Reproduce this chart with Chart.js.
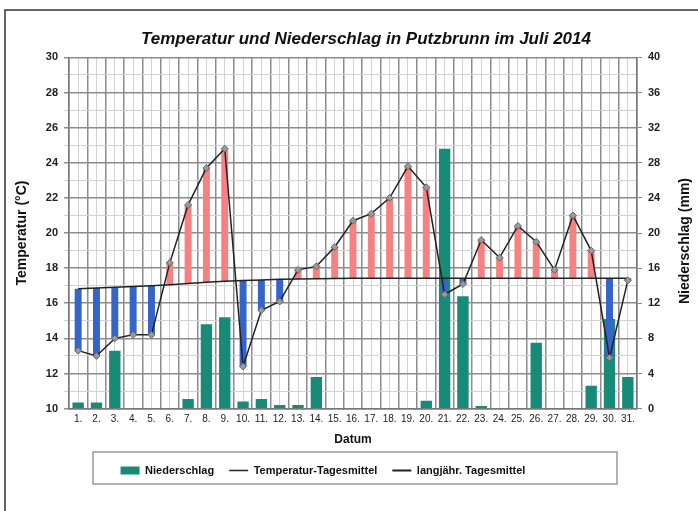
<!DOCTYPE html>
<html>
<head>
<meta charset="utf-8">
<script src="https://cdn.jsdelivr.net/npm/chart.js@4.4.1/dist/chart.umd.min.js"></script>
<style>
  html, body { margin: 0; padding: 0; background: #fff; }
  #wrap { width: 698px; height: 511px; }
</style>
</head>
<body>
<div id="wrap"><canvas id="myChart" width="698" height="511"></canvas></div>
<script>
// Tage im Juli 2014
var days = ["1.", "2.", "3.", "4.", "5.", "6.", "7.", "8.", "9.", "10.", "11.", "12.", "13.", "14.", "15.", "16.",
    "17.", "18.", "19.", "20.", "21.", "22.", "23.", "24.", "25.", "26.", "27.", "28.", "29.", "30.", "31."];
// Temperatur-Tagesmittel (°C)
var tempMean = [13.3, 13.0, 14.0, 14.2, 14.2, 18.3, 21.6, 23.7, 24.8, 12.4, 15.6, 16.1, 17.9, 18.1, 19.2, 20.7,
    21.1, 22.0, 23.8, 22.6, 16.5, 17.1, 19.6, 18.6, 20.4, 19.5, 17.9, 21.0, 19.0, 12.9, 17.3];
// langjähriges Tagesmittel (°C)
var longTermMean = [16.82, 16.87, 16.91, 16.96, 17.0, 17.06, 17.12, 17.19, 17.25, 17.29, 17.32, 17.36, 17.38, 17.4, 17.41, 17.42,
    17.42, 17.42, 17.42, 17.42, 17.42, 17.42, 17.42, 17.42, 17.42, 17.42, 17.42, 17.42, 17.42, 17.42, 17.42];
// Niederschlag (mm)
var rain = [0.7, 0.7, 6.6, 0, 0, 0, 1.1, 9.6, 10.4, 0.8, 1.1, 0.4, 0.4, 3.6, 0, 0,
    0, 0, 0, 0.9, 29.6, 12.8, 0.3, 0, 0, 7.5, 0, 0, 2.6, 10.2, 3.6];

var deviation = tempMean.map(function (t, i) { return [longTermMean[i], t]; });
var deviationColors = tempMean.map(function (t, i) { return t >= longTermMean[i] ? "#f48282" : "#3565c9"; });

var fontFamily = "Arial, 'Liberation Sans', sans-serif";
var boldFont = { family: fontFamily, size: 11, weight: "bold" };

var extras = {
    id: "extras",
    afterLayout: function (chart) {
        // Titel etwas nach rechts, Legendeneinträge etwas nach links wie im Original
        chart.titleBlock.left += 17;
        chart.titleBlock.right += 17;
        chart.legend.left -= 26;
        chart.legend.right -= 26;
    },
    beforeDraw: function (chart) {
        var ctx = chart.ctx;
        ctx.save();
        ctx.fillStyle = "#fff";
        ctx.fillRect(0, 0, chart.width, chart.height);
        ctx.strokeStyle = "#333";
        ctx.lineWidth = 1.5;
        ctx.strokeRect(5, 10, chart.width + 20, chart.height + 20);
        ctx.restore();
    },
    afterDraw: function (chart) {
        var ctx = chart.ctx;
        var area = chart.chartArea;
        var y2 = chart.scales.y2;
        ctx.save();
        // rechte Achsenbeschriftung, von unten nach oben
        ctx.translate(y2.right - 13, (area.top + area.bottom) / 2 + 8);
        ctx.rotate(-Math.PI / 2);
        ctx.font = "bold 14px " + fontFamily;
        ctx.fillStyle = "#111";
        ctx.textAlign = "center";
        ctx.textBaseline = "middle";
        ctx.fillText("Niederschlag (mm)", 0, 0);
        ctx.restore();

        // Rahmen um die Legende
        var lg = chart.legend;
        ctx.save();
        ctx.strokeStyle = "#999";
        ctx.lineWidth = 1.5;
        ctx.strokeRect(area.left + 24, lg.top + 2, area.width - 44, lg.height - 4);
        ctx.restore();
    }
};

var ctx = document.getElementById("myChart").getContext("2d");
var myChart = new Chart(ctx, {
    type: "bar",
    data: {
        labels: days,
        datasets: [
            {
                type: "line",
                label: "Temperatur-Tagesmittel",
                data: tempMean,
                yAxisID: "y",
                borderColor: "#222",
                borderWidth: 1.5,
                pointStyle: "rectRot",
                pointRadius: 3.5,
                pointBackgroundColor: "#9a9a9a",
                pointBorderColor: "#666",
                pointBorderWidth: 1,
                tension: 0,
                order: 0,
            },
            {
                type: "line",
                label: "langjähr. Tagesmittel",
                data: longTermMean,
                yAxisID: "y",
                borderColor: "#222",
                borderWidth: 1.5,
                pointRadius: 0,
                tension: 0,
                order: 1,
            },
            {
                label: "Abweichung",
                data: deviation,
                yAxisID: "y",
                backgroundColor: deviationColors,
                grouped: false,
                barPercentage: 0.38,
                categoryPercentage: 1,
                order: 2,
            },
            {
                label: "Niederschlag",
                data: rain,
                yAxisID: "y2",
                backgroundColor: "#178a78",
                grouped: false,
                barPercentage: 0.62,
                categoryPercentage: 1,
                order: 3,
            },
        ],
    },
    options: {
        responsive: false,
        animation: false,
        layout: { padding: { top: 0, right: 0, bottom: 25, left: 0 } },
        plugins: {
            title: {
                display: true,
                text: "Temperatur und Niederschlag in Putzbrunn im Juli 2014",
                color: "#111",
                font: { family: fontFamily, size: 17, weight: "bold", style: "italic" },
                padding: { top: 29, bottom: 8 },
            },
            legend: {
                position: "bottom",
                labels: {
                    color: "#111",
                    font: { family: fontFamily, size: 11, weight: "bold" },
                    usePointStyle: true,
                    pointStyleWidth: 19,
                    boxHeight: 8,
                    padding: 15,
                    generateLabels: function (chart) {
                        var ds = chart.data.datasets;
                        return [
                            { text: ds[3].label, fillStyle: "#178a78", strokeStyle: "#178a78", lineWidth: 0, pointStyle: "rect", datasetIndex: 3, fontColor: "#111" },
                            { text: ds[0].label, fillStyle: "#222", strokeStyle: "#222", lineWidth: 1.5, pointStyle: "line", datasetIndex: 0, fontColor: "#111" },
                            { text: ds[1].label, fillStyle: "#222", strokeStyle: "#222", lineWidth: 2, pointStyle: "line", datasetIndex: 1, fontColor: "#111" },
                        ];
                    },
                },
            },
            tooltip: { enabled: false },
        },
        scales: {
            x: {
                position: "bottom",
                offset: true,
                grid: { offset: true, color: "#8c8c8c", lineWidth: 1.5, tickLength: 0 },
                border: { color: "#777", width: 1.5 },
                ticks: {
                    autoSkip: false,
                    maxRotation: 0,
                    padding: 5,
                    color: "#222",
                    font: { family: fontFamily, size: 10 },
                },
                title: {
                    display: true,
                    text: "Datum",
                    color: "#111",
                    font: { family: fontFamily, size: 12, weight: "bold" },
                    padding: { top: 2, bottom: 3 },
                },
            },
            xc: {
                position: "bottom",
                offset: true,
                grid: { offset: false, color: "#d2d2d2", lineWidth: 1, drawTicks: false },
                border: { display: false },
                ticks: { display: false },
            },
            y: {
                position: "left",
                min: 10,
                max: 30,
                ticks: {
                    stepSize: 1,
                    autoSkip: false,
                    padding: 6,
                    color: "#222",
                    font: boldFont,
                    callback: function (v) { return v % 2 === 0 ? v : ""; },
                },
                grid: {
                    tickLength: 5,
                    color: function (c) { return c.tick && c.tick.value % 2 !== 0 ? "#d2d2d2" : "#8c8c8c"; },
                    lineWidth: function (c) { return c.tick && c.tick.value % 2 !== 0 ? 1 : 1.5; },
                },
                border: { color: "#777", width: 1.5 },
                title: {
                    display: true,
                    text: "Temperatur (°C)",
                    color: "#111",
                    font: { family: fontFamily, size: 14, weight: "bold" },
                    padding: { top: 14, bottom: 0 },
                },
                afterFit: function (scale) { scale.width = 69; },
            },
            y2: {
                position: "right",
                min: 0,
                max: 40,
                ticks: { stepSize: 4, padding: 6, color: "#222", font: boldFont },
                grid: { drawOnChartArea: false, tickLength: 5, color: "#8c8c8c" },
                border: { color: "#777", width: 1.5 },
                afterFit: function (scale) { scale.width = 61; },
            },
        },
    },
    plugins: [extras],
});
</script>
</body>
</html>
